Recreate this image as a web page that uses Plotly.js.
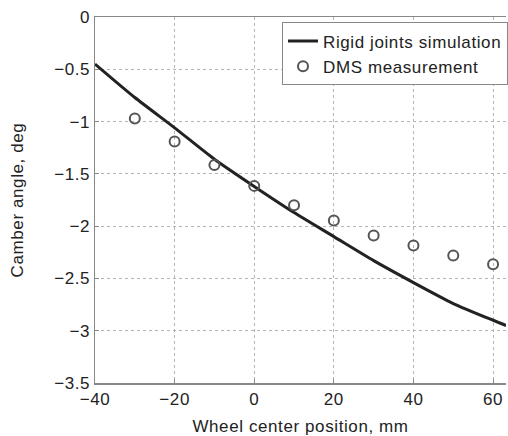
<!DOCTYPE html>
<html>
<head>
<meta charset="utf-8">
<script src="https://cdn.plot.ly/plotly-3.0.1.min.js"></script>
<style>
  html, body { margin: 0; padding: 0; background: #fff; overflow: hidden; }
  #chart { width: 508px; height: 436px; }
  svg text { letter-spacing: 0.6px; }
</style>
</head>
<body>
<div id="chart"></div>
<script>
// Rigid joints simulation curve (wheel center position in mm, camber in deg)
const simX = [-40, -30, -20, -10, 0, 10, 20, 30, 40, 50, 60, 63.3];
const simY = [-0.45, -0.77, -1.06, -1.36, -1.62, -1.87, -2.10, -2.33, -2.54, -2.74, -2.90, -2.95];

// DMS measurement points
const dmsX = [-30, -20, -10, 0, 10, 20, 30, 40, 50, 60];
const dmsY = [-0.97, -1.19, -1.415, -1.615, -1.80, -1.945, -2.09, -2.185, -2.28, -2.365];

// Axis ticks
const xTicks = [-40, -20, 0, 20, 40, 60];
const yTicks = [0, -0.5, -1, -1.5, -2, -2.5, -3, -3.5];

const fmt = v => (v < 0 ? '\u2212' + Math.abs(v) : String(v));

const font = { family: 'Liberation Sans, Arial, sans-serif', size: 17, color: '#222' };

const traces = [
  {
    x: simX, y: simY, mode: 'lines', name: 'Rigid joints simulation',
    line: { color: '#222', width: 3, shape: 'spline', smoothing: 0.6 }
  },
  {
    x: dmsX, y: dmsY, mode: 'markers', name: 'DMS measurement',
    marker: { symbol: 'circle-open', size: 10, color: '#555', line: { width: 2, color: '#555' } }
  }
];

const layout = {
  width: 508, height: 436,
  margin: { l: 95, r: 0, t: 17, b: 53 },
  paper_bgcolor: '#fff', plot_bgcolor: '#fff',
  font: font,
  showlegend: true,
  legend: {
    x: 0.455, y: 0.985, xanchor: 'left', yanchor: 'top',
    bgcolor: '#fff', bordercolor: '#888', borderwidth: 1,
    font: font, tracegroupgap: 0, itemwidth: 30
  },
  xaxis: {
    range: [-40, 63.25], tickvals: xTicks, ticktext: xTicks.map(fmt),
    showgrid: true, gridcolor: '#b4b4b4', griddash: 'dot', gridwidth: 1,
    zeroline: false, showline: true, linecolor: '#888', linewidth: 1.5, mirror: true,
    ticks: 'inside', ticklen: 4, tickcolor: '#888',
    tickfont: font,
    title: { text: 'Wheel center position, mm', font: font, standoff: 22 }
  },
  yaxis: {
    range: [-3.5, 0], tickvals: yTicks, ticktext: yTicks.map(fmt),
    showgrid: true, gridcolor: '#b4b4b4', griddash: 'dot', gridwidth: 1,
    zeroline: false, showline: true, linecolor: '#888', linewidth: 1.5, mirror: false,
    ticks: 'inside', ticklen: 4, tickcolor: '#888',
    tickfont: font,
    title: { text: 'Camber angle, deg', font: font, standoff: 26 }
  }
};

Plotly.newPlot('chart', traces, layout, { displayModeBar: false, staticPlot: true });
</script>
</body>
</html>
